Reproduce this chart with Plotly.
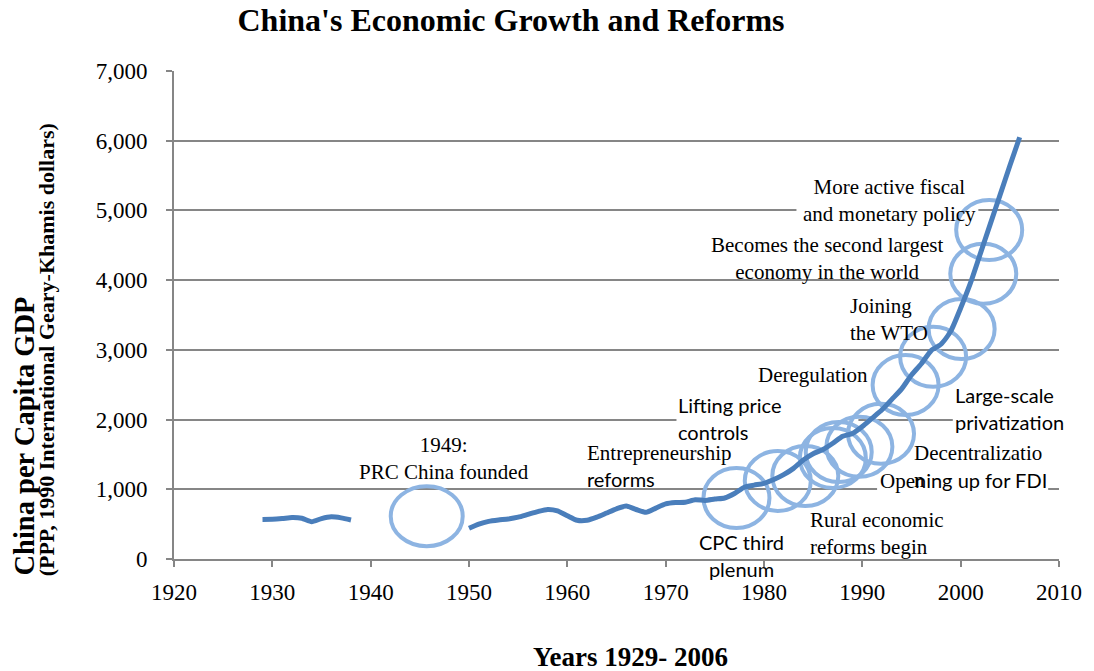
import plotly.graph_objects as go

# ---------------- data ----------------
years_pre = [1929, 1930, 1931, 1932, 1933, 1934, 1935, 1936, 1937, 1938]
gdp_pre = [568, 570, 580, 595, 585, 535, 580, 605, 590, 560]

years_post = list(range(1950, 2007))
gdp_post = [440, 500, 540, 560, 575, 600, 640, 680, 710, 690,
            620, 555, 555, 600, 660, 720, 760, 710, 670, 730,
            790, 810, 815, 850, 840, 860, 875, 940, 1030, 1060,
            1085, 1140, 1210, 1300, 1420, 1510, 1570, 1660, 1760, 1800,
            1900, 2020, 2140, 2290, 2440, 2640, 2800, 2990, 3080, 3270,
            3600, 3960, 4380, 4800, 5220, 5640, 6050]

# reform event circles (centre year, centre value)
circle_years = [1945.7, 1977.2, 1981.4, 1984.2, 1987.0, 1987.6, 1989.7, 1991.9,
                1994.4, 1997.2, 2000.1, 2002.3, 2002.9]
circle_values = [615, 875, 1120, 1190, 1450, 1535, 1610, 1795,
                 2496, 2900, 3300, 4090, 4720]

x_ticks = [1920, 1930, 1940, 1950, 1960, 1970, 1980, 1990, 2000, 2010]
y_ticks = [0, 1000, 2000, 3000, 4000, 5000, 6000, 7000]

SERIF = "Liberation Serif, Times New Roman, serif"
SANS = "Lato, Calibri, sans-serif"
LINE_BLUE = "#4A7EBB"
CIRCLE_BLUE = "#8DB4E2"
GRID = "#868686"

fig = go.Figure()

for xs, ys in ((years_pre, gdp_pre), (years_post, gdp_post)):
    fig.add_trace(go.Scatter(
        x=xs, y=ys, mode="lines",
        line=dict(color=LINE_BLUE, width=5, shape="spline", smoothing=0.6),
        showlegend=False, hoverinfo="x+y"))

shapes = []
# white text boxes that interrupt gridlines
for (xa, xb, ya, yb) in [(1983.3, 2001.8, 4930, 5070),
                         (1971.1, 1989.6, 1930, 2070),
                         (1999.2, 2010.0, 1930, 2070),
                         (1991.5, 2008.9, 930, 1070)]:
    shapes.append(dict(type="rect", xref="x", yref="y", x0=xa, x1=xb, y0=ya, y1=yb,
                       fillcolor="white", line=dict(width=0), layer="between"))
for i, (cx, cy) in enumerate(zip(circle_years, circle_values)):
    rx, ry = (36, 30) if i == 0 else (33, 30)
    shapes.append(dict(type="circle", xref="x", yref="y",
                       xsizemode="pixel", ysizemode="pixel",
                       xanchor=cx, yanchor=cy,
                       x0=-rx, x1=rx, y0=-ry, y1=ry,
                       line=dict(color=CIRCLE_BLUE, width=4), layer="between"))

def sans(t):
    return f"<span style='font-family:{SANS};font-size:20px'>{t}</span>"

ann = []
def label(text, x, y, xanchor="center", align="center"):
    ann.append(dict(text=text, x=x, y=y, xref="x", yref="y", showarrow=False,
                    xanchor=xanchor, yanchor="middle", align=align,
                    font=dict(family=SERIF, size=21, color="black")))

label("1949:<br>PRC China founded", 1947.5, 1440)
label("Entrepreneurship<br>" + sans("reforms"), 1961.8, 1340, "left", "left")
label(sans("Lifting price<br>controls"), 1971.1, 2010, "left", "left")
label("Deregulation", 1985.0, 2640)
label("Joining<br>the WTO", 1988.5, 3430, "left", "left")
label("Becomes the second largest<br>economy in the world", 1986.4, 4310)
label("More active fiscal<br>and monetary policy", 1992.8, 5140)
label(sans("Large-scale<br>privatization"), 1999.2, 2165, "left", "left")
label("Decentralizatio<br>n", 1995.0, 1320, "left", "left")
label("Ope" + sans("ning up for FDI"), 1991.6, 1120, "left", "left")
label("Rural economic<br>reforms begin", 1984.5, 366, "left", "left")
label(sans("CPC third<br>plenum"), 1977.7, 45)

PLOT_H = 559 - 71
PLOT_W = 1065 - 174
# axis titles
ann.append(dict(text="<b>Years 1929- 2006</b>", x=(634 - 174) / PLOT_W, y=(559 - 657) / PLOT_H,
                xref="paper", yref="paper", showarrow=False, xanchor="center", yanchor="middle",
                font=dict(family=SERIF, size=27, color="black")))
ann.append(dict(text="<b>China per Capita GDP</b>", x=(23 - 174) / PLOT_W, y=(559 - 578) / PLOT_H,
                xref="paper", yref="paper", showarrow=False, textangle=-90,
                xanchor="center", yanchor="bottom",
                font=dict(family=SERIF, size=28.5, color="black")))
ann.append(dict(text="<b>(PPP, 1990 International Geary-Khamis dollars)</b>",
                x=(46 - 174) / PLOT_W, y=(559 - 578) / PLOT_H,
                xref="paper", yref="paper", showarrow=False, textangle=-90,
                xanchor="center", yanchor="bottom",
                font=dict(family=SERIF, size=22, color="black")))

fig.update_layout(
    width=1094, height=671,
    margin=dict(l=174, r=29, t=71, b=112),
    paper_bgcolor="white", plot_bgcolor="white",
    title=dict(text="<b>China's Economic Growth and Reforms</b>",
               x=511 / 1094, xanchor="center", y=1 - 20 / 671, yanchor="middle",
               xref="container", yref="container",
               font=dict(family=SERIF, size=32, color="black")),
    xaxis=dict(range=[1920, 2010], tickvals=x_ticks, ticks="outside", ticklen=6,
               tickcolor=GRID, tickwidth=2, showline=True, linecolor=GRID, linewidth=2,
               showgrid=False, zeroline=False, ticklabelstandoff=5,
               tickfont=dict(family=SERIF, size=23, color="black")),
    yaxis=dict(range=[0, 7000], tickvals=y_ticks, tickformat=",d", ticks="outside", ticklen=6,
               tickcolor=GRID, tickwidth=2, showline=True, linecolor=GRID, linewidth=2,
               showgrid=True, gridcolor=GRID, gridwidth=1.5, zeroline=False,
               ticklabelstandoff=14,
               tickfont=dict(family=SERIF, size=23, color="black")),
    shapes=shapes, annotations=ann,
)

fig.write_html("out.html")
